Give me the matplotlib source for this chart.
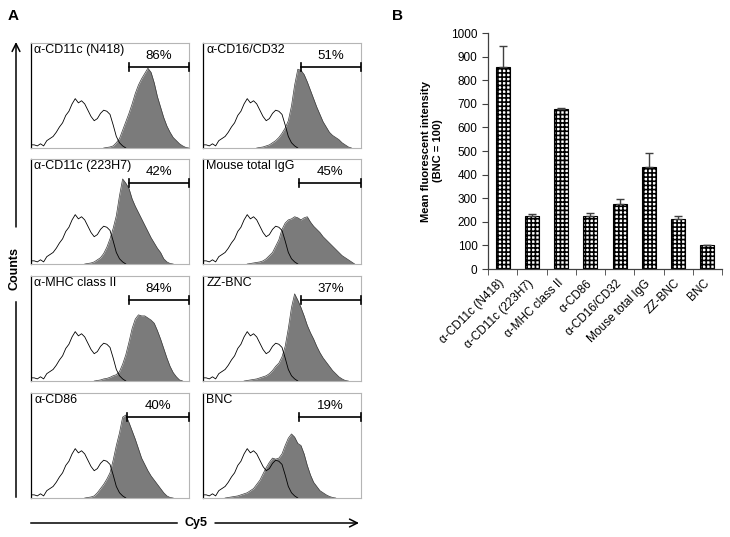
import numpy as np
import matplotlib.pyplot as plt

plt.rcParams['font.family'] = ['Liberation Sans', 'DejaVu Sans']
plt.rcParams['hatch.linewidth'] = 1.2

# ---- panel A: flow histograms (height as fraction of panel, sampled every 0.02 of Cy5 axis)
STEP = 0.02
control_y = [0.03, 0.03, 0.02, 0.04, 0.02, 0.07, 0.09, 0.11, 0.15, 0.20, 0.24, 0.31,
             0.35, 0.42, 0.47, 0.43, 0.45, 0.42, 0.36, 0.30, 0.26, 0.28, 0.33, 0.36,
             0.35, 0.32, 0.22, 0.11, 0.05, 0.02, 0.0]

panel_names = ['α-CD11c (N418)', 'α-CD16/CD32', 'α-CD11c (223H7)', 'Mouse total IgG',
               'α-MHC class II', 'ZZ-BNC', 'α-CD86', 'BNC']
panel_pct = ['86%', '51%', '42%', '45%', '84%', '37%', '40%', '19%']
gate_start = [0.62, 0.62, 0.62, 0.61, 0.62, 0.62, 0.61, 0.61]
fill_start = [0.46, 0.34, 0.34, 0.28, 0.40, 0.26, 0.34, 0.14]

fill_n418 = [0, 0.005, 0.01, 0.02, 0.05, 0.09, 0.17, 0.25, 0.33, 0.42, 0.52, 0.60, 0.66, 0.71,
             0.76, 0.72, 0.62, 0.49, 0.39, 0.29, 0.21, 0.15, 0.10, 0.07, 0.04, 0.02, 0.005, 0]
fill_cd16 = [0, 0.005, 0.01, 0.02, 0.03, 0.05, 0.07, 0.10, 0.14, 0.19, 0.26, 0.40, 0.60, 0.75,
             0.74, 0.70, 0.63, 0.55, 0.47, 0.39, 0.32, 0.25, 0.20, 0.15, 0.12, 0.10, 0.08, 0.05,
             0.03, 0.01, 0]
fill_223h7 = [0, 0.005, 0.01, 0.02, 0.04, 0.06, 0.10, 0.16, 0.24, 0.34, 0.46, 0.65, 0.81, 0.77,
              0.72, 0.62, 0.55, 0.49, 0.43, 0.37, 0.31, 0.25, 0.20, 0.15, 0.11, 0.05, 0.02, 0.005, 0]
fill_igg = [0, 0.005, 0.01, 0.015, 0.02, 0.03, 0.05, 0.08, 0.11, 0.17, 0.23, 0.33, 0.39, 0.42,
            0.43, 0.45, 0.44, 0.42, 0.44, 0.45, 0.40, 0.36, 0.33, 0.30, 0.26, 0.23, 0.20, 0.17,
            0.14, 0.11, 0.08, 0.06, 0.04, 0.02, 0]
fill_mhc = [0, 0.005, 0.01, 0.02, 0.025, 0.035, 0.05, 0.06, 0.09, 0.16, 0.25, 0.37, 0.50, 0.59,
            0.63, 0.62, 0.62, 0.60, 0.58, 0.55, 0.48, 0.40, 0.31, 0.22, 0.14, 0.08, 0.04, 0.01, 0]
fill_zz = [0, 0.005, 0.01, 0.015, 0.02, 0.03, 0.04, 0.05, 0.07, 0.10, 0.14, 0.17, 0.23, 0.33,
           0.50, 0.70, 0.83, 0.77, 0.70, 0.62, 0.53, 0.46, 0.40, 0.33, 0.27, 0.22, 0.18, 0.14,
           0.10, 0.07, 0.04, 0.02, 0.005, 0]
fill_cd86 = [0, 0.005, 0.01, 0.02, 0.05, 0.09, 0.13, 0.18, 0.24, 0.36, 0.50, 0.62, 0.77, 0.79,
             0.72, 0.64, 0.56, 0.47, 0.38, 0.32, 0.26, 0.21, 0.17, 0.13, 0.09, 0.05, 0.02, 0.005, 0]
fill_bnc = [0, 0.005, 0.01, 0.015, 0.02, 0.03, 0.04, 0.05, 0.07, 0.09, 0.13, 0.17, 0.23, 0.29,
            0.34, 0.38, 0.37, 0.38, 0.42, 0.50, 0.57, 0.61, 0.58, 0.52, 0.50, 0.42, 0.31, 0.22,
            0.15, 0.11, 0.07, 0.05, 0.03, 0.015, 0.005, 0]
fills = [fill_n418, fill_cd16, fill_223h7, fill_igg, fill_mhc, fill_zz, fill_cd86, fill_bnc]

# ---- panel B: mean fluorescent intensity
mfi_labels = ['α-CD11c (N418)', 'α-CD11c (223H7)', 'α-MHC class II', 'α-CD86',
              'α-CD16/CD32', 'Mouse total IgG', 'ZZ-BNC', 'BNC']
mfi_values = [858, 226, 677, 226, 276, 434, 211, 100]
mfi_err = [88, 7, 5, 11, 22, 56, 15, 0]

W, H = 730, 537
fig = plt.figure(figsize=(W / 100, H / 100), dpi=100)


def px_axes(left, top, right, bottom):
    return fig.add_axes([left / W, 1 - bottom / H, (right - left) / W, (bottom - top) / H])


col_left = [31, 203]
col_w = 158
row_top = [43, 159, 276, 393]
row_h = 105

for i, name in enumerate(panel_names):
    r, c = divmod(i, 2)
    ax = px_axes(col_left[c], row_top[r], col_left[c] + col_w, row_top[r] + row_h)
    fy = fills[i]
    fx = fill_start[i] + STEP * np.arange(len(fy))
    ax.fill_between(fx, 0, fy, color='#7b7b7b', lw=0, zorder=1)
    ax.plot(fx, fy, color='#3a3a3a', lw=0.5, zorder=2)
    cx = STEP * np.arange(len(control_y))
    ax.plot(cx, control_y, color='black', lw=0.6, zorder=3)
    # gate bracket
    g0 = gate_start[i]
    ax.plot([g0, 1.0], [0.77, 0.77], color='black', lw=1.2, zorder=4)
    ax.plot([g0, g0], [0.73, 0.81], color='black', lw=1.2, zorder=4)
    ax.plot([1.0, 1.0], [0.73, 0.81], color='black', lw=1.2, zorder=4, clip_on=False)
    ax.text((g0 + 1.0) / 2, 0.88, panel_pct[i], ha='center', va='center', fontsize=9.5)
    ax.text(0.02, 0.99, name, ha='left', va='top', fontsize=9, transform=ax.transAxes)
    ax.set_xlim(0, 1)
    ax.set_ylim(0, 1)
    ax.set_xticks([])
    ax.set_yticks([])
    for s in ['top', 'right', 'bottom']:
        ax.spines[s].set_color('#b5b5b5')
        ax.spines[s].set_linewidth(0.8)
    ax.spines['left'].set_color('black')
    ax.spines['left'].set_linewidth(0.9)

# overlay for arrows and panel letters, in pixel coordinates
ov = fig.add_axes([0, 0, 1, 1])
ov.set_xlim(0, W)
ov.set_ylim(H, 0)
ov.axis('off')
ov.patch.set_visible(False)

ov.plot([16, 16], [497, 302], color='black', lw=1.1)
ov.annotate('', xy=(16, 42), xytext=(16, 227),
            arrowprops=dict(arrowstyle='->', color='black', lw=1.1, mutation_scale=14,
                            shrinkA=0, shrinkB=0))
ov.text(14, 268, 'Counts', rotation=90, ha='center', va='center', fontsize=9, fontweight='bold')

ov.plot([31, 177], [523, 523], color='black', lw=1.1)
ov.annotate('', xy=(359, 523), xytext=(215, 523),
            arrowprops=dict(arrowstyle='->', color='black', lw=1.1, mutation_scale=14,
                            shrinkA=0, shrinkB=0))
ov.text(196, 523, 'Cy5', ha='center', va='center', fontsize=9, fontweight='bold')

ov.text(8, 16, 'A', ha='left', va='center', fontsize=11, fontweight='bold')
ov.text(392, 16, 'B', ha='left', va='center', fontsize=11, fontweight='bold')

# ---- panel B bar chart
bx = px_axes(488, 33, 722, 269)
pos = np.arange(len(mfi_values))
bx.bar(pos, mfi_values, width=0.48, color='white', edgecolor='black', hatch='++++',
       lw=0.8, zorder=2)
bx.errorbar(pos, mfi_values, yerr=[np.zeros(len(mfi_err)), mfi_err], fmt='none',
            ecolor='#404040', elinewidth=1.0, capsize=3, capthick=1.0, zorder=3)
bx.set_xlim(-0.5, len(mfi_values) - 0.5)
bx.set_ylim(0, 1000)
bx.set_yticks(np.arange(0, 1001, 100))
bx.set_xticks(pos)
bx.set_xticklabels(mfi_labels, rotation=45, ha='right', va='center', rotation_mode='anchor',
                   fontsize=8.5)
bx.set_xticks(np.arange(-0.5, len(mfi_values)), minor=True)
bx.tick_params(axis='x', which='major', length=0, pad=9)
bx.tick_params(axis='x', which='minor', length=4, direction='out', color='#404040')
bx.tick_params(axis='y', length=4, direction='out', labelsize=8.5, color='#404040')
for s in ['top', 'right']:
    bx.spines[s].set_visible(False)
for s in ['left', 'bottom']:
    bx.spines[s].set_color('#404040')
    bx.spines[s].set_linewidth(0.9)
bx.set_ylabel('Mean fluorescent intensity\n(BNC = 100)', fontsize=8, fontweight='bold',
              labelpad=6)

fig.savefig('out.png', dpi=100)
